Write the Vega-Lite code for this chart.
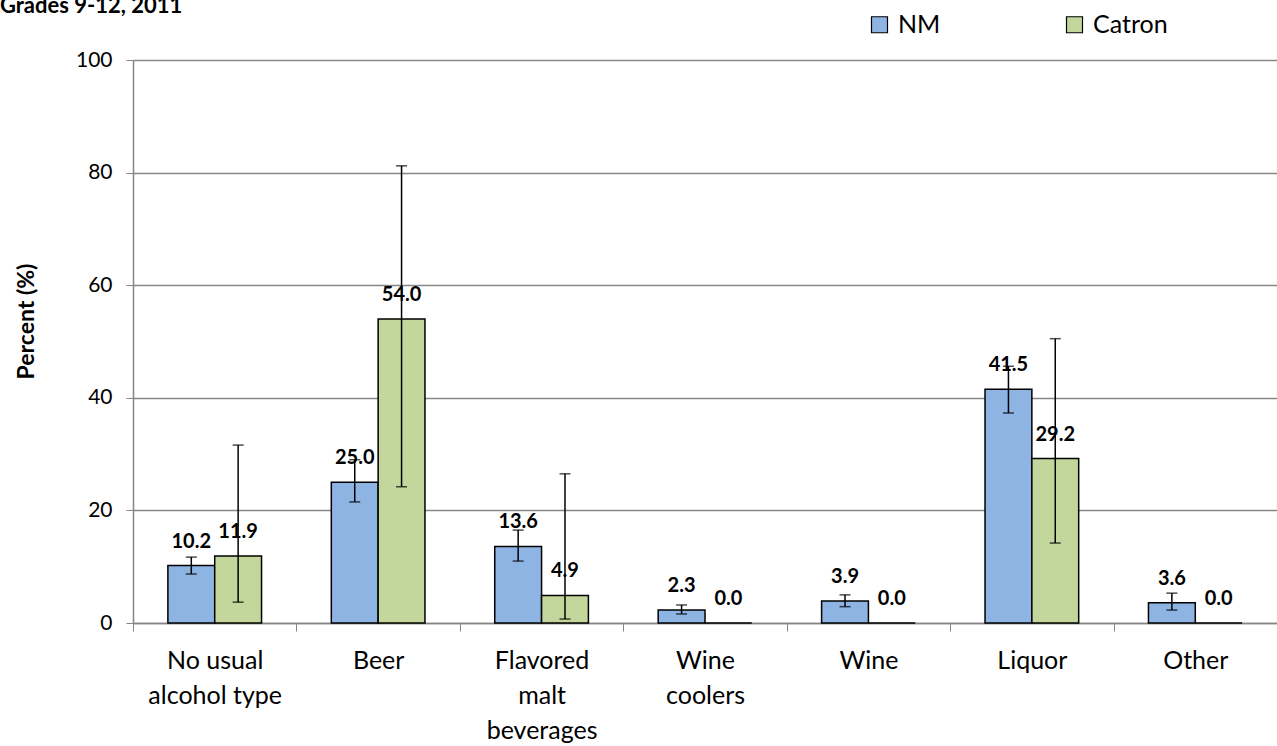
{
  "$schema": "https://vega.github.io/schema/vega-lite/v6.json",
  "width": 1144,
  "height": 563,
  "autosize": {"type": "none"},
  "padding": {"left": 133, "top": 60, "right": 0, "bottom": 123},
  "background": "white",
  "title": {
    "text": "Grades 9-12, 2011",
    "anchor": "start",
    "frame": "group",
    "dx": -133,
    "dy": 23,
    "offset": 0,
    "baseline": "alphabetic",
    "font": "Lato",
    "fontSize": 22,
    "fontWeight": "bold",
    "color": "black"
  },
  "config": {
    "view": {"stroke": null},
    "font": "Lato"
  },
  "data": {
    "values": [
      {"cat": "No usual|alcohol type", "group": "NM", "value": 10.2, "lo": 8.7, "hi": 11.7},
      {"cat": "No usual|alcohol type", "group": "Catron", "value": 11.9, "lo": 3.7, "hi": 31.6},
      {"cat": "Beer", "group": "NM", "value": 25.0, "lo": 21.5, "hi": 29.0},
      {"cat": "Beer", "group": "Catron", "value": 54.0, "lo": 24.2, "hi": 81.2},
      {"cat": "Flavored|malt|beverages", "group": "NM", "value": 13.6, "lo": 11.0, "hi": 16.5},
      {"cat": "Flavored|malt|beverages", "group": "Catron", "value": 4.9, "lo": 0.7, "hi": 26.5},
      {"cat": "Wine|coolers", "group": "NM", "value": 2.3, "lo": 1.6, "hi": 3.2},
      {"cat": "Wine|coolers", "group": "Catron", "value": 0.0, "lo": null, "hi": null},
      {"cat": "Wine", "group": "NM", "value": 3.9, "lo": 2.9, "hi": 5.0},
      {"cat": "Wine", "group": "Catron", "value": 0.0, "lo": null, "hi": null},
      {"cat": "Liquor", "group": "NM", "value": 41.5, "lo": 37.3, "hi": 45.6},
      {"cat": "Liquor", "group": "Catron", "value": 29.2, "lo": 14.2, "hi": 50.5},
      {"cat": "Other", "group": "NM", "value": 3.6, "lo": 2.3, "hi": 5.3},
      {"cat": "Other", "group": "Catron", "value": 0.0, "lo": null, "hi": null}
    ]
  },
  "encoding": {
    "x": {
      "field": "cat",
      "type": "nominal",
      "sort": null,
      "scale": {"paddingInner": 0, "paddingOuter": 0},
      "axis": {
        "title": null,
        "labelAngle": 0,
        "labelExpr": "datum.value ? split(datum.value, '|') : ''",
        "labelFont": "Lato",
        "labelFontSize": 25,
        "labelColor": "black",
        "labelLineHeight": 35,
        "labelPadding": 29,
        "labelBaseline": "middle",
        "tickBand": "extent",
        "tickSize": 8,
        "tickColor": "#868686",
        "domainColor": "#868686",
        "domainWidth": 1.5
      }
    },
    "xOffset": {
      "field": "group",
      "type": "nominal",
      "sort": ["NM", "Catron"],
      "scale": {"paddingInner": 0, "paddingOuter": 0.745}
    }
  },
  "layer": [
    {
      "mark": {"type": "bar", "stroke": "black", "strokeWidth": 1.5},
      "encoding": {
        "y": {
          "field": "value",
          "type": "quantitative",
          "scale": {"domain": [0, 100]},
          "axis": {
            "title": "Percent (%)",
            "titleFont": "Lato",
            "titleFontSize": 23,
            "titleFontWeight": "bold",
            "titleColor": "black",
            "titlePadding": 37,
            "titleY": 261,
            "values": [0, 20, 40, 60, 80, 100],
            "labelFont": "Lato",
            "labelFontSize": 21,
            "labelColor": "black",
            "labelPadding": 14,
            "tickSize": 7,
            "tickColor": "#868686",
            "domainColor": "#868686",
            "domainWidth": 1.5,
            "gridColor": "#868686",
            "gridWidth": 1.5
          }
        },
        "color": {
          "field": "group",
          "type": "nominal",
          "sort": ["NM", "Catron"],
          "scale": {"domain": ["NM", "Catron"], "range": ["#8EB4E3", "#C3D69B"]},
          "legend": {
            "title": null,
            "orient": "none",
            "direction": "horizontal",
            "legendX": 734,
            "legendY": -48,
            "symbolType": "square",
            "symbolSize": 256,
            "symbolStrokeColor": "black",
            "symbolStrokeWidth": 1.2,
            "labelFont": "Lato",
            "labelFontSize": 25,
            "labelColor": "black",
            "labelOffset": 6,
            "columnPadding": 121
          }
        }
      }
    },
    {
      "mark": {"type": "text", "baseline": "alphabetic", "dy": -18, "font": "Lato", "fontSize": 20, "fontWeight": "bold", "color": "black"},
      "encoding": {
        "y": {"field": "value", "type": "quantitative"},
        "text": {"field": "value", "type": "quantitative", "format": ".1f"}
      }
    },
    {
      "transform": [{"filter": "datum.lo != null"}],
      "mark": {"type": "rule", "color": "black", "strokeWidth": 1.5},
      "encoding": {
        "y": {"field": "lo", "type": "quantitative"},
        "y2": {"field": "hi"}
      }
    },
    {
      "transform": [{"filter": "datum.lo != null"}],
      "mark": {"type": "tick", "orient": "horizontal", "color": "black", "size": 11, "thickness": 1.5},
      "encoding": {
        "y": {"field": "lo", "type": "quantitative"}
      }
    },
    {
      "transform": [{"filter": "datum.lo != null"}],
      "mark": {"type": "tick", "orient": "horizontal", "color": "black", "size": 11, "thickness": 1.5},
      "encoding": {
        "y": {"field": "hi", "type": "quantitative"}
      }
    }
  ]
}
